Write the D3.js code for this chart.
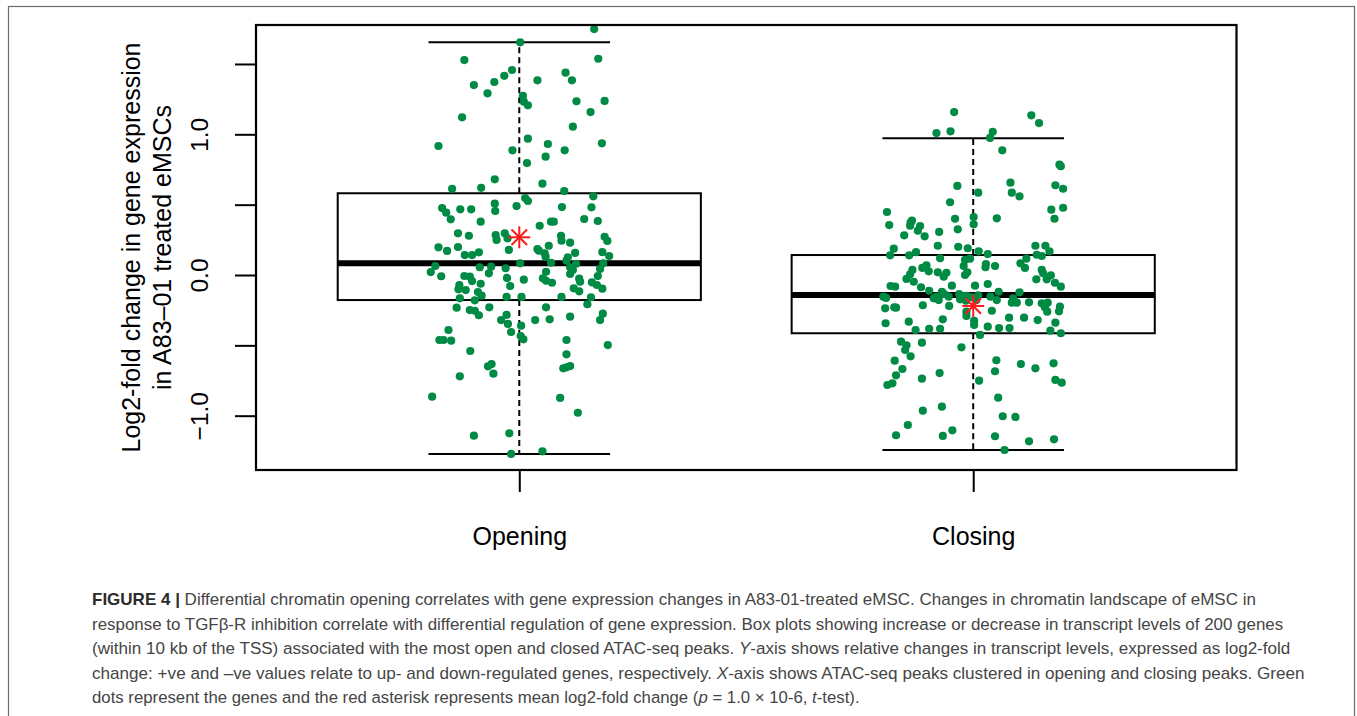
<!DOCTYPE html>
<html>
<head>
<meta charset="utf-8">
<script src="https://cdn.jsdelivr.net/npm/d3@7"></script>
<style>
  html, body { margin: 0; padding: 0; background: #fff; }
  svg { display: block; }
</style>
</head>
<body>
<svg id="chart" width="1357" height="716"></svg>
<script>
// ---- data -------------------------------------------------------------
const categories = ["Opening", "Closing"];

// box-plot summaries per category (log2-fold change)
const lowerWhisker = [-1.272, -1.244];
const lowerQuartile = [-0.178, -0.414];
const medians = [0.083, -0.142];
const upperQuartile = [0.581, 0.142];
const upperWhisker = [1.654, 0.972];
const means = [0.268, -0.220];

// individual genes: horizontal jitter (category units) and log2-fold change
const openingJitter = [0.165,0.002,-0.121,0.174,-0.016,-0.033,0.102,0.116,0.040,-0.055,
  -0.100,-0.070,0.008,0.010,0.019,0.126,0.188,0.157,-0.126,0.118,
  -0.178,0.019,0.063,0.182,-0.015,0.100,0.058,0.017,-0.054,0.051,
  -0.148,-0.084,0.099,0.163,0.013,0.019,-0.170,-0.161,-0.151,-0.130,
  -0.106,-0.054,-0.053,-0.006,0.094,0.159,-0.085,0.045,0.070,0.076,
  0.143,0.173,-0.135,-0.111,-0.052,-0.032,0.092,0.188,
  -0.050,-0.026,0.093,0.112,0.194,-0.178,-0.159,-0.135,-0.120,-0.104,
  -0.089,-0.023,0.040,0.043,0.065,0.056,0.058,0.107,0.123,0.183,
  0.198,-0.185,-0.195,-0.172,-0.087,-0.062,-0.067,-0.030,0.002,0.070,
  0.104,0.112,0.118,0.125,0.185,0.178,0.059,-0.121,-0.109,-0.104,
  -0.085,-0.027,-0.020,0.010,0.052,0.059,0.072,0.112,0.132,0.134,
  0.173,0.160,0.171,0.183,0.120,0.132,-0.132,-0.134,-0.118,-0.091,
  -0.083,-0.131,-0.098,-0.028,0.005,0.093,0.158,0.150,-0.138,-0.109,
  -0.098,-0.089,-0.066,0.059,-0.028,-0.040,-0.025,-0.018,0.004,0.035,
  0.067,0.112,0.184,0.178,-0.156,-0.176,-0.167,-0.150,0.003,0.009,
  0.104,0.195,-0.108,0.104,-0.069,-0.061,-0.057,0.097,0.104,0.112,
  -0.131,-0.192,0.090,0.129,-0.100,-0.022,-0.018,0.051];
const openingValues = [1.748,1.654,1.528,1.537,1.457,1.416,1.438,1.384,1.384,1.372,
  1.350,1.291,1.274,1.232,1.206,1.235,1.237,1.158,1.121,1.054,
  0.917,0.969,0.931,0.936,0.886,0.886,0.841,0.796,0.680,0.649,
  0.613,0.620,0.597,0.559,0.547,0.526,0.476,0.443,0.396,0.467,
  0.467,0.507,0.455,0.490,0.483,0.481,0.379,0.350,0.379,0.379,
  0.398,0.384,0.296,0.279,0.284,0.296,0.279,0.272,
  0.249,0.261,0.244,0.230,0.242,0.197,0.171,0.199,0.142,0.142,
  0.161,0.178,0.185,0.173,0.208,0.154,0.130,0.126,0.158,0.163,
  0.135,0.064,0.021,-0.009,0.055,0.059,0.012,0.048,0.083,0.087,
  0.102,0.055,0.036,0.080,0.083,0.043,0.023,-0.007,-0.012,-0.043,
  -0.062,-0.021,-0.078,-0.033,-0.023,-0.041,-0.055,0.007,-0.026,-0.048,
  -0.007,-0.052,-0.071,-0.097,-0.095,-0.116,-0.071,-0.102,-0.107,-0.121,
  -0.147,-0.166,-0.180,-0.156,-0.156,-0.156,-0.158,-0.208,-0.232,-0.249,
  -0.254,-0.286,-0.230,-0.230,-0.284,-0.320,-0.348,-0.405,-0.360,-0.320,
  -0.315,-0.296,-0.275,-0.320,-0.391,-0.462,-0.462,-0.467,-0.434,-0.457,
  -0.462,-0.498,-0.540,-0.564,-0.649,-0.633,-0.701,-0.663,-0.656,-0.647,
  -0.720,-0.865,-0.874,-0.979,-1.142,-1.125,-1.272,-1.253];

const closingJitter = [-0.042,0.128,0.145,-0.081,-0.050,0.043,0.037,0.064,0.190,0.193,
  -0.035,0.011,0.082,0.085,0.102,0.181,0.198,-0.051,0.172,0.198,
  0.179,-0.190,-0.185,-0.138,-0.135,-0.139,-0.117,-0.122,-0.107,-0.152,
  -0.075,-0.040,-0.034,0.001,0.001,0.052,-0.175,-0.183,-0.141,-0.126,
  -0.078,-0.073,-0.033,-0.012,0.012,0.032,-0.018,-0.007,0.137,0.159,
  0.168,0.140,0.151,0.117,0.104,0.114,0.028,0.027,0.048,-0.021,
  -0.013,-0.018,-0.112,-0.103,-0.098,-0.134,-0.139,-0.147,-0.078,-0.059,
  -0.065,0.151,0.154,0.171,0.139,0.162,
  -0.131,0.180,0.193,-0.182,
  -0.172,-0.115,-0.097,-0.047,0.004,0.032,0.056,0.102,-0.198,-0.192,
  -0.087,-0.076,-0.081,-0.069,-0.064,-0.054,-0.031,-0.023,-0.015,-0.004,
  0.011,-0.029,-0.016,0.007,0.038,0.052,0.085,0.096,0.088,0.123,
  0.151,0.164,0.158,0.163,0.191,0.189,-0.194,-0.174,-0.170,-0.111,
  -0.053,-0.015,-0.015,0.041,-0.193,-0.142,-0.067,-0.127,-0.097,-0.073,
  0.002,0.002,0.032,0.057,0.079,0.080,0.112,0.142,0.181,0.170,
  0.193,0.015,-0.159,-0.147,-0.150,-0.113,-0.026,-0.138,-0.173,-0.156,
  -0.170,-0.189,-0.178,-0.113,-0.074,0.013,0.051,0.048,0.105,0.137,
  0.177,0.181,0.195,0.055,-0.111,-0.069,0.065,0.093,-0.144,-0.170,
  -0.067,-0.046,0.048,0.123,0.178,0.069];
const closingValues = [1.158,1.135,1.080,1.009,1.021,1.018,0.974,0.886,0.784,0.773,
  0.633,0.585,0.656,0.585,0.559,0.638,0.613,0.517,0.464,0.478,
  0.400,0.448,0.355,0.372,0.386,0.350,0.348,0.315,0.275,0.282,
  0.306,0.400,0.325,0.412,0.360,0.403,0.187,0.140,0.140,0.163,
  0.208,0.119,0.201,0.190,0.168,0.149,0.107,0.116,0.208,0.208,
  0.168,0.144,0.135,0.116,0.083,0.050,0.078,0.055,0.064,0.064,
  0.019,0.000,0.050,0.069,0.026,0.036,0.005,-0.028,0.019,0.016,
  -0.012,0.036,0.012,-0.002,-0.031,-0.031,
  -0.048,-0.055,-0.083,-0.078,
  -0.083,-0.087,-0.112,-0.076,-0.076,-0.064,-0.119,-0.123,-0.154,-0.163,
  -0.166,-0.178,-0.154,-0.119,-0.135,-0.154,-0.135,-0.154,-0.149,-0.158,
  -0.144,-0.173,-0.183,-0.178,-0.154,-0.178,-0.197,-0.197,-0.166,-0.194,
  -0.201,-0.197,-0.230,-0.261,-0.225,-0.258,-0.237,-0.230,-0.232,-0.215,
  -0.220,-0.261,-0.291,-0.254,-0.343,-0.332,-0.315,-0.391,-0.382,-0.382,
  -0.325,-0.355,-0.367,-0.377,-0.303,-0.377,-0.303,-0.320,-0.339,-0.396,
  -0.414,-0.426,-0.474,-0.500,-0.533,-0.481,-0.514,-0.578,-0.609,-0.668,
  -0.713,-0.782,-0.770,-0.737,-0.697,-0.751,-0.606,-0.684,-0.633,-0.663,
  -0.628,-0.746,-0.765,-0.872,-0.964,-0.936,-1.004,-1.009,-1.066,-1.139,
  -1.144,-1.104,-1.146,-1.182,-1.168,-1.244];

const yTicks = [-1, -0.5, 0, 0.5, 1, 1.5];
const yTickLabels = ["\u22121.0", "", "0.0", "", "1.0", ""];
const yTitleLines = ["Log2-fold change in gene expression", "in A83\u201301 treated eMSCs"];

const captionLines = [
  [{t: "FIGURE 4 | ", b: true}, {t: "Differential chromatin opening correlates with gene expression changes in A83-01-treated eMSC. Changes in chromatin landscape of eMSC in"}],
  [{t: "response to TGF\u03b2-R inhibition correlate with differential regulation of gene expression. Box plots showing increase or decrease in transcript levels of 200 genes"}],
  [{t: "(within 10 kb of the TSS) associated with the most open and closed ATAC-seq peaks. "}, {t: "Y", i: true}, {t: "-axis shows relative changes in transcript levels, expressed as log2-fold"}],
  [{t: "change: +ve and \u2013ve values relate to up- and down-regulated genes, respectively. "}, {t: "X", i: true}, {t: "-axis shows ATAC-seq peaks clustered in opening and closing peaks. Green"}],
  [{t: "dots represent the genes and the red asterisk represents mean log2-fold change ("}, {t: "p", i: true}, {t: " = 1.0 \u00d7 10-6, "}, {t: "t", i: true}, {t: "-test)."}]
];
const captionWidths = [1164, 1192, 1199, 1213, 768];

// ---- layout -----------------------------------------------------------
const svg = d3.select("#chart");
const plot = {left: 256, top: 25, right: 1236.5, bottom: 470};
const font = "'Liberation Sans', Arial, Helvetica, sans-serif";
const dotColor = "#008B45";

const x = d3.scaleLinear().domain([0.42, 2.58]).range([plot.left, plot.right]);
const y = d3.scaleLinear().domain([-1.386, 1.777]).range([plot.bottom, plot.top]);

// figure frame
svg.append("rect")
  .attr("x", 8.5).attr("y", 6.5)
  .attr("width", 1346).attr("height", 720)
  .attr("fill", "none").attr("stroke", "#6a6a6a").attr("stroke-width", 1.2);

// ---- boxes ------------------------------------------------------------
const boxes = svg.append("g").attr("fill", "none").attr("stroke", "#000");
categories.forEach((c, i) => {
  const pos = i + 1;
  const g = boxes.append("g");
  // whiskers
  g.append("line")
    .attr("x1", x(pos)).attr("x2", x(pos))
    .attr("y1", y(upperQuartile[i])).attr("y2", y(upperWhisker[i]))
    .attr("stroke-width", 2).attr("stroke-dasharray", "6,4");
  g.append("line")
    .attr("x1", x(pos)).attr("x2", x(pos))
    .attr("y1", y(lowerQuartile[i])).attr("y2", y(lowerWhisker[i]))
    .attr("stroke-width", 2).attr("stroke-dasharray", "6,4");
  // staples
  [upperWhisker[i], lowerWhisker[i]].forEach(v => {
    g.append("line")
      .attr("x1", x(pos - 0.2)).attr("x2", x(pos + 0.2))
      .attr("y1", y(v)).attr("y2", y(v))
      .attr("stroke-width", 2);
  });
  // box
  g.append("rect")
    .attr("x", x(pos - 0.4)).attr("width", x(pos + 0.4) - x(pos - 0.4))
    .attr("y", y(upperQuartile[i])).attr("height", y(lowerQuartile[i]) - y(upperQuartile[i]))
    .attr("stroke-width", 2);
  // median
  g.append("line")
    .attr("x1", x(pos - 0.4)).attr("x2", x(pos + 0.4))
    .attr("y1", y(medians[i])).attr("y2", y(medians[i]))
    .attr("stroke-width", 6);
});

// ---- gene points --------------------------------------------------------
const points = [
  ...openingValues.map((v, k) => ({pos: 1 + openingJitter[k], v})),
  ...closingValues.map((v, k) => ({pos: 2 + closingJitter[k], v}))
];
svg.append("g").selectAll("circle")
  .data(points)
  .join("circle")
  .attr("cx", d => x(d.pos))
  .attr("cy", d => y(d.v))
  .attr("r", 4.1)
  .attr("fill", dotColor);

// ---- mean asterisks ---------------------------------------------------
const arm = 11;
const diag = arm * Math.SQRT1_2;
const star = svg.append("g").attr("stroke", "#ff1a1a").attr("stroke-width", 2);
means.forEach((m, i) => {
  const cx = x(i + 1), cy = y(m);
  const s = star.append("g").attr("transform", `translate(${cx},${cy})`);
  s.append("line").attr("x1", -arm).attr("x2", arm).attr("y1", 0).attr("y2", 0);
  s.append("line").attr("x1", 0).attr("x2", 0).attr("y1", -arm).attr("y2", arm);
  s.append("line").attr("x1", -diag).attr("x2", diag).attr("y1", -diag).attr("y2", diag);
  s.append("line").attr("x1", -diag).attr("x2", diag).attr("y1", diag).attr("y2", -diag);
});

// ---- plot frame ---------------------------------------------------------
svg.append("rect")
  .attr("x", plot.left).attr("y", plot.top)
  .attr("width", plot.right - plot.left).attr("height", plot.bottom - plot.top)
  .attr("fill", "none").attr("stroke", "#000").attr("stroke-width", 2.2);

// ---- axes ---------------------------------------------------------------
const yAxis = svg.append("g")
  .attr("transform", `translate(${plot.left},0)`)
  .call(d3.axisLeft(y).tickValues(yTicks).tickFormat((d, i) => yTickLabels[i]).tickSize(21));
yAxis.select(".domain").remove();
yAxis.selectAll(".tick line").attr("stroke", "#000").attr("stroke-width", 2);
yAxis.selectAll(".tick text")
  .attr("x", null).attr("dy", null)
  .attr("transform", "translate(-48,0) rotate(-90)")
  .attr("text-anchor", "middle")
  .attr("fill", "#000")
  .style("font-family", font).style("font-size", "24.5px");

const xAxis = svg.append("g")
  .attr("transform", `translate(0,${plot.bottom})`)
  .call(d3.axisBottom(x).tickValues([1, 2]).tickFormat((d, i) => categories[i]).tickSize(22));
xAxis.select(".domain").remove();
xAxis.selectAll(".tick line").attr("stroke", "#000").attr("stroke-width", 2);
xAxis.selectAll(".tick text")
  .attr("y", 75).attr("dy", null)
  .attr("fill", "#000")
  .style("font-family", font).style("font-size", "25px");

// y-axis title
const midY = (plot.top + plot.bottom) / 2;
yTitleLines.forEach((line, i) => {
  svg.append("text")
    .attr("transform", `translate(${140 + i * 30.5},${midY}) rotate(-90)`)
    .attr("text-anchor", "middle")
    .style("font-family", font).style("font-size", "25px")
    .attr("fill", "#000")
    .text(line);
});

// ---- caption -----------------------------------------------------------
// each line is drawn at its natural width, then stretched horizontally to its set width
captionLines.forEach((parts, i) => {
  const t = svg.append("text")
    .attr("x", 0).attr("y", 0)
    .style("font-family", font).style("font-size", "17px")
    .attr("fill", "#454545");
  parts.forEach(p => {
    const ts = t.append("tspan").text(p.t);
    if (p.b) ts.attr("font-weight", "bold").attr("fill", "#2a2a2a");
    if (p.i) ts.attr("font-style", "italic");
  });
  const natural = t.node().getComputedTextLength();
  const sx = natural > 0 ? captionWidths[i] / natural : 1;
  t.attr("transform", `translate(92,${605 + i * 24.5}) scale(${sx},1)`);
});
</script>
</body>
</html>
